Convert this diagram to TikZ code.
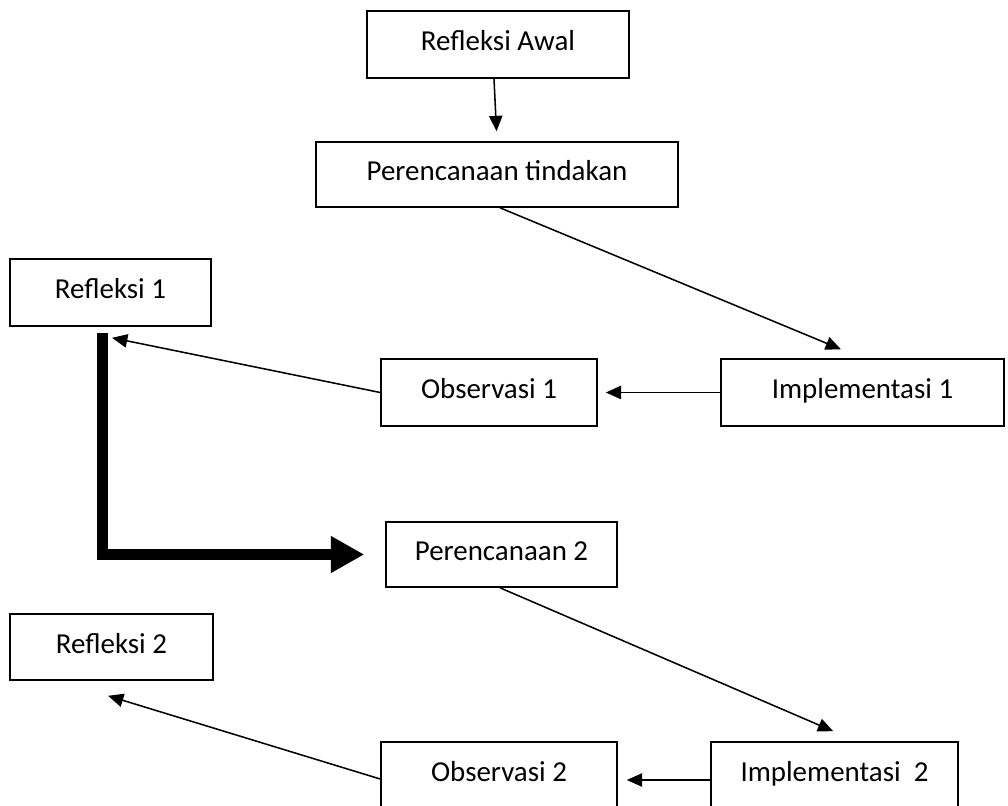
\documentclass[tikz,border=0pt]{standalone}
\usepackage{fontspec}
\setmainfont{Carlito}
\usetikzlibrary{arrows.meta, calc}

\begin{document}
\begin{tikzpicture}[
    x=0.75pt, y=-0.75pt,
    >={Triangle[length=11.5pt,width=10pt]},
    box/.style={draw, line width=1.2pt, inner sep=0pt, text height=15pt, text depth=5.5pt,
                minimum height=50.25pt, font=\fontsize{21.7}{26}\selectfont},
    arr/.style={->, line width=1.15pt},
    fat/.style={-{Triangle[length=25pt,width=26pt]}, line width=8.25pt}
  ]
  \useasboundingbox (0,0) rectangle (1008,806);
  \node[box, minimum width=196.5pt] (awal) at (498,44.5) {Refleksi Awal};
  \node[box, minimum width=271.5pt, minimum height=48.75pt] (rencana) at (497,174.5) {Perencanaan tindakan};
  \node[box, minimum width=150.75pt] (ref1) at (110.5,292.5) {Refleksi 1};
  \node[box, minimum width=162pt] (obs1) at (489,392.5) {Observasi 1};
  \node[box, minimum width=212.25pt] (imp1) at (862.5,392.5) {Implementasi 1};
  \node[box, minimum width=173.25pt, minimum height=48.75pt] (rencana2) at (501.5,554.5) {Perencanaan 2};
  \node[box, minimum width=152.25pt, minimum height=49.5pt] (ref2) at (111.5,647) {Refleksi 2};
  \node[box, minimum width=177pt] (obs2) at (499,775.5) {Observasi 2};
  \node[box, minimum width=185.25pt] (imp2) at (834.5,775.5) {Implementasi \ 2};
  \draw[arr, shorten >=7.5pt] ($(awal.south)+(-4,0)$) -- (rencana.north);
  \draw[arr, shorten >=17.5pt] ($(rencana.south)+(3,0)$) -- (imp1.north);
  \draw[arr, shorten >=6pt] (imp1.west) -- (obs1.east);
  \draw[arr] (obs1.west) -- ($(ref1.south)+(1.5,11)$);
  \draw[fat, shorten >=15.75pt] ($(ref1.south)+(-8.5,6)$) |- (rencana2.west);
  \draw[arr, shorten >=19pt] ($(rencana2.south)+(-1.5,0)$) -- ($(imp2.north)+(22,0)$);
  \draw[arr, shorten >=6.75pt] ($(imp2.west)+(0,4.5)$) -- ($(obs2.east)+(0,4.5)$);
  \draw[arr] ($(obs2.west)+(0,3.5)$) -- ($(ref2.south)+(-3.5,15)$);
\end{tikzpicture}
\end{document}
